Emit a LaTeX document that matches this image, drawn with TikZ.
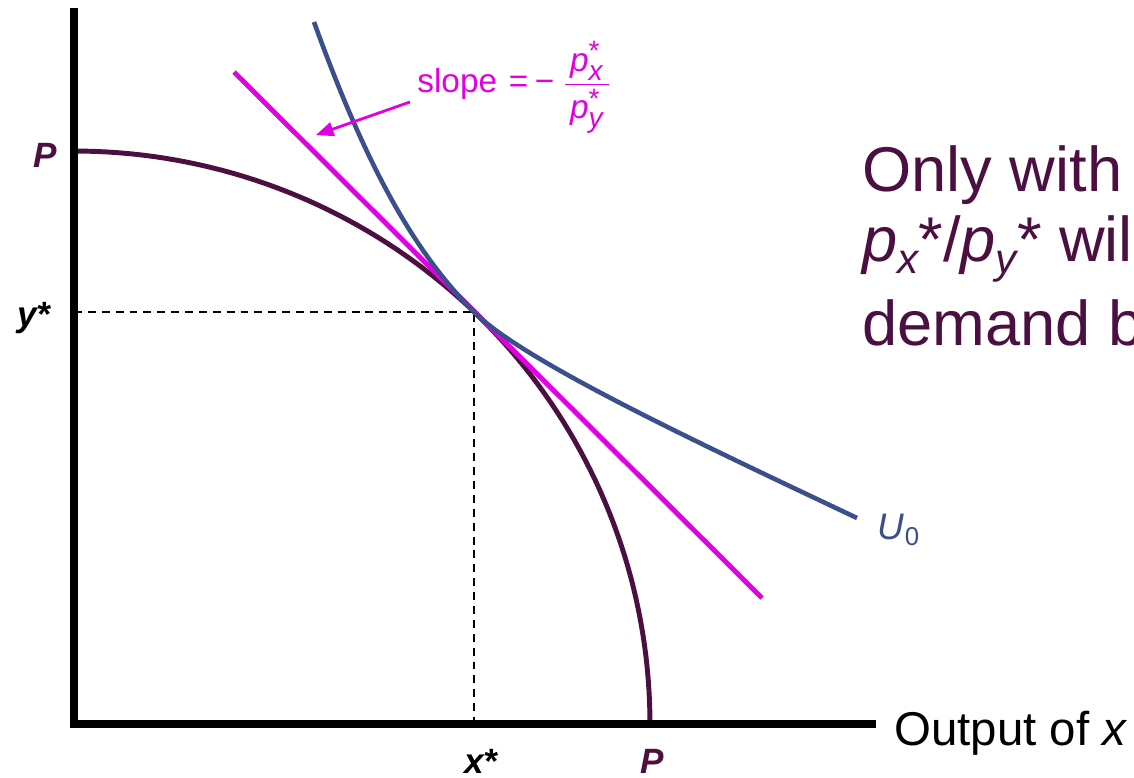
\documentclass[tikz,border=0pt]{standalone}
\usepackage{fontspec}
\usepackage{amsmath}
\setmainfont{Liberation Sans}
\usetikzlibrary{arrows.meta}
\DeclareMathSizes{19}{19}{16}{13}
\definecolor{ppfcol}{RGB}{75,16,65}
\definecolor{indiffcol}{RGB}{59,79,140}
\definecolor{magcol}{RGB}{225,0,225}
\newcommand{\mysub}[1]{\raisebox{-0.2em}{\fontsize{24}{24}\selectfont\itshape #1}}
\tikzset{
  axisline/.style={line width=4pt, black},
  ppfline/.style={line width=2.8pt, ppfcol},
  indiffline/.style={line width=2.6pt, indiffcol},
  priceline/.style={line width=2.8pt, magcol},
  guideline/.style={line width=1.1pt, black, dash pattern=on 4.5pt off 3.4pt},
  ptlabel/.style={font=\fontsize{20}{24}\selectfont\bfseries\itshape, inner sep=0pt},
  bigtext/.style={font=\fontsize{36}{43}\selectfont, text=ppfcol, anchor=base west, inner sep=0pt},
}
\begin{document}
\begin{tikzpicture}[x=0.02cm, y=-0.02cm]
\useasboundingbox (0,0) rectangle (1134,778);
% coordinates
\coordinate (origin) at (74,724);
\coordinate (ytop) at (74,8);
\coordinate (xend) at (876,724);
\coordinate (tang) at (474,312);
\coordinate (ystar) at (74,312);
\coordinate (xstar) at (474,724);
\coordinate (pl1) at (234,72);
\coordinate (pl2) at (762,598);
\coordinate (u1) at (314,22);
\coordinate (u2) at (857,518);
% dashed guides
\draw[guideline] (ystar) -- (tang) -- (xstar);
% PPF
\draw[ppfline] plot[domain=90:0, samples=80] ({74+576*cos(\x)}, {724-573*sin(\x)});
% price line
\draw[priceline] (pl1) -- (pl2);
% indifference curve
\draw[indiffline] (u1) .. controls (365.5,164.5) and (413.4,251.4) .. (tang)
   .. controls (522,360) and (690,439) .. (u2);
% axes
\draw[axisline] (ytop) -- (74,727);
\draw[axisline] (70,724) -- (xend);
% labels
\node[ptlabel, text=ppfcol] (pleft) at (45,155) {P};
\node[ptlabel] (ylab) at (34,318) {y*};
\node[ptlabel] (xlab) at (481,761) {x*};
\node[ptlabel, text=ppfcol] (pbot) at (652,761) {P};
\node[font=\fontsize{21}{25}\selectfont, text=indiffcol, inner sep=0pt] (ulab) at (899,530) {\textit{U}\textsubscript{0}};
\node[font=\fontsize{27}{32}\selectfont, anchor=base west, inner sep=0pt] (xaxis) at (894,745) {Output of \textit{x}};
% slope label
\node[font=\fontsize{19}{23}\selectfont, text=magcol, anchor=base west, inner sep=0pt] (slopelbl) at (417,92)
  {slope\hspace{0.35em}=\hspace{0.2em}−\hspace{0.25em}$\dfrac{\mkern3mu\textit{p}^{\text{*}}_{\textit{x}}\mkern3mu}{\mkern3mu\textit{p}^{\text{*}}_{\textit{y}}\mkern3mu}$};
\coordinate (arrtail) at (410,102);
\coordinate (arrtip) at (316,135);
\draw[magcol, line width=1.6pt, -{Triangle[length=10pt, width=8pt]}] (arrtail) -- (arrtip);
% right text (clipped at the picture edge)
\begin{scope}
\clip (0,0) rectangle (1134,778);
\node[bigtext] (t1) at (862,191) {Only with};
\node[bigtext] (t2) at (862,261) {\textit{p}\mysub{x}*/\textit{p}\mysub{y}* wil};
\node[bigtext] (t3) at (862,345) {demand b};
\end{scope}
\end{tikzpicture}
\end{document}
